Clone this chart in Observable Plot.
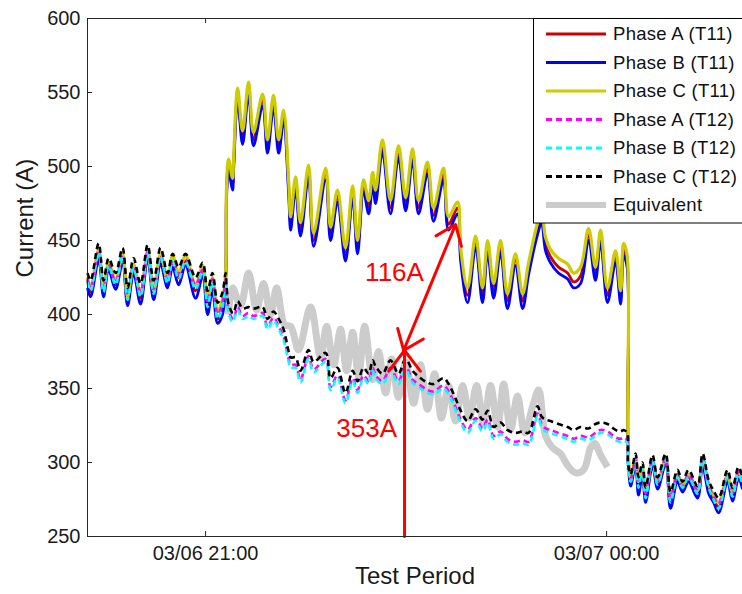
<!DOCTYPE html>
<html><head><meta charset="utf-8">
<script src="https://cdn.jsdelivr.net/npm/d3@7"></script>
<script src="https://cdn.jsdelivr.net/npm/@observablehq/plot@0.6"></script>
<style>
html,body{margin:0;padding:0;background:#fff;}
#chart{position:relative;width:742px;height:594px;overflow:hidden;}
</style></head><body><div id="chart"></div>
<script>
// minutes relative to 03/06 21:00
const minutes = [
 -53,-51.6,-48,-45.8,-43.5,-40.4,-37.3,-35,-32.3,-29.2,-26,-23.3,-20.2,-17.1,-14.8,-12.1,-9,-4.5,-1.3,0.9,3.1,5.4,7.6,9,
 9.4,10.3,12.1,12.6,14.4,16.6,19.3,21.5,25.6,27.8,30.5,32.8,35,37.3,38.2,40.4,42.6,46.2,48.5,53.9,
 56.1,59.2,62.8,66,68.2,70.9,73.2,75,76.3,79.4,83,86.6,89.8,92.9,95.6,99.6,102.3,106.8,109.1,113.1,
 114.5,117.6,121.2,124.3,126.6,129.3,132.4,135.5,139.1,142.3,145,149,150.8,152.6,154.8,158.4,162.5,165.2,168.3,171.9,
 175,177.3,180.4,184,186.3,187.6,189.2,
 189.6,190.8,193,194.3,196.1,197.5,200.6,202.9,206.5,208.7,211.8,214.1,216.8,220.8,223.1,225.8,228,230.3,234.3,236.5,239.2,241
];
const phaseA_T11 = [
 423,415,441,415,432,420,438,409,430,411,440,413,437,420,436,425,436,416,429,405,420,397,405,425,
 482,501,488,502,549,519,553,518,545,513,544,513,534,486,461,489,457,497,450,495,
 454,480,440,483,445,487,472,492,479,514,472,510,474,508,472,499,467,495,461,472,
 440,413,449,413,446,416,446,409,437,409,431,458,466,447,439,432,428,422,426,454,
 427,453,413,439,411,444,436,
 312,287,301,284,295,277,300,285,301,274,290,282,290,278,301,282,275,270,290,277,292,285
];
const phaseB_T11 = [
 418,412,437,412,430,417,435,406,428,407,438,410,434,418,432,420,433,411,426,400,416,394,400,422,
 478,497,484,498,545,515,549,514,541,509,540,509,530,481,457,485,453,493,446,491,
 450,476,436,479,441,483,468,488,475,510,468,506,470,504,468,495,463,491,457,468,
 436,408,445,408,442,411,442,404,433,404,427,454,462,443,435,428,424,418,421,450,
 423,449,408,435,407,440,432,
 310,284,299,278,292,273,298,282,299,269,287,280,287,276,298,279,273,266,287,274,289,282
];
const phaseC_T11 = [
 425,418,444,418,435,423,441,412,434,414,443,416,441,423,440,428,440,420,433,410,425,402,410,428,
 486,505,492,506,553,524,557,523,549,518,548,518,538,490,466,493,462,501,455,499,
 459,484,445,487,450,491,477,496,484,518,477,514,479,512,477,503,472,499,466,476,
 445,418,453,418,450,421,450,414,441,414,435,462,470,452,444,438,434,428,432,458,
 432,457,418,443,416,448,440,
 315,289,303,287,297,280,302,287,303,277,292,284,292,281,303,285,278,273,292,280,294,287
];
const phaseA_T12 = [
 424,418,443,418,434,422,440,413,433,415,442,417,440,423,437,427,437,420,430,408,424,400,408,424,
 416,403,397,397,405,399,401,399,401,392,398,392,385,370,366,366,356,372,363,370,
 351,359,342,357,349,359,355,364,359,355,364,355,365,356,353,349,348,352,348,334,
 329,322,330,323,329,318,321,316,314,315,314,333,326,323,322,320,318,316,318,317,
 320,322,321,317,316,317,315,
 296,289,303,286,297,279,302,287,303,276,292,284,292,281,303,285,277,272,292,279,294,287
];
const phaseB_T12 = [
 422,416,442,415,433,420,440,410,432,412,441,414,439,421,436,424,436,417,429,405,422,397,405,422,
 414,401,395,396,403,397,399,397,399,390,396,390,383,368,364,364,354,370,361,368,
 349,357,340,355,347,357,353,362,357,353,362,353,363,354,351,347,346,350,346,332,
 327,320,328,321,327,316,319,314,312,313,312,331,324,321,320,318,316,314,316,315,
 318,320,319,315,314,315,313,
 295,287,302,283,296,276,301,285,302,273,290,283,290,279,302,283,275,269,290,277,292,285
];
const phaseC_T12 = [
 428,423,448,423,438,428,445,418,438,421,447,423,445,428,441,432,441,425,435,416,428,408,415,428,
 420,407,401,401,409,404,405,404,405,397,402,397,390,375,371,371,362,376,368,374,
 357,364,347,362,355,364,360,369,365,360,369,360,370,362,358,354,353,357,353,340,
 335,328,336,329,335,324,327,322,320,321,320,338,331,329,328,326,324,322,324,323,
 326,327,326,322,321,322,320,
 300,292,306,290,300,283,305,290,306,280,295,287,295,284,306,288,281,276,295,283,297,290
];
const eqMinutes = [
 10.3,12.1,15.7,19.3,22.9,26.0,29.2,31.9,35.5,38.2,41.7,47.1,51.6,54.3,57.5,60.6,63.3,66.0,68.7,71.4,
 75.0,77.6,80.8,83.5,86.6,89.8,93.4,96.5,99.6,102.8,105.9,109.1,112.2,115.4,118.5,121.6,124.8,127.9,131.1,133.8,
 136.9,140.0,143.2,146.8,149.5,152.6,155.7,159.3,162.5,166.1,169.7,172.8,174.6,177.3,180.4
];
const equivalent = [
 400,418,406,428,403,421,400,418,393,392,376,405,371,392,366,390,362,388,358,392,
 356,375,347,370,344,368,340,366,336,360,330,352,328,352,330,352,326,352,324,353,
 322,345,320,338,349,318,310,306,298,293,295,310,313,305,297
];
const seriesNames = ["Phase A (T11)","Phase B (T11)","Phase C (T11)","Phase A (T12)","Phase B (T12)","Phase C (T12)","Equivalent"];
const seriesColors = ["#cc0000","#0000ff","#cccc00","#ff00ff","#00ffff","#000000","#cccccc"];
const seriesDash = [null,null,null,"6,4","6,4","6,4",null];
const seriesWidth = [2.8,2.8,3.2,2.6,2.6,2.6,7];
const tickMinutes = [0, 180];
const tickLabels = ["03/06 21:00", "03/07 00:00"];
const yTicks = [250,300,350,400,450,500,550,600];
const xDomainMinutes = [-53, 241];
// annotation values (data space)
const arrowFrom = [{m: 89.3, v: 250}, {m: 100.6, v: 418.5}, {m: 100.6, v: 418.5}];
const arrowTo   = [{m: 89.3, v: 375.7}, {m: 112.2, v: 460.8}, {m: 88.9, v: 375.7}];
const noteLabels = ["116A", "353A"];
const noteAt = [{m: 84.8, v: 428.4}, {m: 72.3, v: 323}];

const T0 = new Date(2015, 2, 6, 21, 0, 0);
const toDate = m => new Date(T0.getTime() + m * 60000);
const valuesList = [phaseA_T11, phaseB_T11, phaseC_T11, phaseA_T12, phaseB_T12, phaseC_T12];
const seriesData = valuesList.map((vals, k) => vals.map((v, i) => ({date: toDate(minutes[i]), value: v, k})));
seriesData.push(equivalent.map((v, i) => ({date: toDate(eqMinutes[i]), value: v, k: 6})));

const drawOrder = [6, 0, 1, 2, 3, 4, 5];
const lineMarks = drawOrder.map(k => Plot.line(seriesData[k], {
  x: "date", y: "value", stroke: seriesColors[k], strokeWidth: seriesWidth[k],
  strokeDasharray: seriesDash[k] || undefined, strokeLinejoin: "round", strokeLinecap: "butt", curve: "catmull-rom"
}));

const tMin = toDate(xDomainMinutes[0]);
const tickDates = tickMinutes.map(toDate);
const arrows = arrowFrom.map((a, i) => ({x1: toDate(a.m), y1: a.v, x2: toDate(arrowTo[i].m), y2: arrowTo[i].v}));
const notes = noteLabels.map((t, i) => ({text: t, date: toDate(noteAt[i].m), value: noteAt[i].v}));
const axisCol = "#262626";

const chart = Plot.plot({
  width: 742, height: 594,
  marginLeft: 87, marginRight: 0, marginTop: 18, marginBottom: 58,
  style: {fontFamily: "'Liberation Sans', Arial, sans-serif", fontSize: "20px", color: "#1a1a1a", background: "#fff", overflow: "visible"},
  x: {type: "time", domain: xDomainMinutes.map(toDate)},
  y: {domain: [250, 600]},
  marks: [
    ...lineMarks,
    Plot.arrow(arrows, {x1: "x1", y1: "y1", x2: "x2", y2: "y2", stroke: "#ff0000", strokeWidth: 3, headLength: 13, headAngle: 75}),
    Plot.text(notes, {x: "date", y: "value", text: "text", fill: "#ff0000", fontSize: 26}),
    Plot.ruleY([250, 600], {stroke: axisCol, strokeWidth: 1}),
    Plot.ruleX([tMin], {stroke: axisCol, strokeWidth: 1}),
    Plot.ruleX(tickDates, {y1: 250, y2: 253.4, stroke: axisCol}),
    Plot.ruleX(tickDates, {y1: 600, y2: 596.6, stroke: axisCol}),
    Plot.ruleY(yTicks, {x1: tMin, x2: toDate(xDomainMinutes[0] + 2.25), stroke: axisCol}),
    Plot.axisX({ticks: tickDates, tickSize: 0, tickPadding: 9, label: null, fontSize: 20,
      tickFormat: d => tickLabels[tickMinutes.indexOf(Math.round((d - T0) / 60000))]}),
    Plot.axisY({ticks: yTicks, tickSize: 0, tickPadding: 7, label: null, fontSize: 20}),
    Plot.text(["Test Period"], {frameAnchor: "bottom", dy: 47, text: d => d, fontSize: 24}),
    Plot.text(["Current (A)"], {frameAnchor: "left", dx: -62, rotate: -90, text: d => d, fontSize: 24})
  ]
});
document.getElementById("chart").appendChild(chart);

// legend box inside the axes
const svg = d3.select(chart);
const lg = svg.append("g");
lg.append("rect").attr("x", 533.5).attr("y", 18.5).attr("width", 230).attr("height", 204.5)
  .attr("fill", "#fff").attr("stroke", "#000").attr("stroke-width", 1);
seriesNames.forEach((name, i) => {
  const y = 34 + i * 28.5;
  lg.append("line").attr("x1", 546).attr("x2", 606).attr("y1", y).attr("y2", y)
    .attr("stroke", seriesColors[i]).attr("stroke-width", i === 6 ? 6 : 2.8)
    .attr("stroke-dasharray", seriesDash[i]);
  lg.append("text").attr("x", 613).attr("y", y).attr("dy", "0.35em")
    .attr("text-anchor", "start")
    .style("font-family", "'Liberation Sans', Arial, sans-serif")
    .style("font-size", "18.5px").style("letter-spacing", "0.3px")
    .attr("fill", "#111").text(name);
});
</script>
</body></html>
